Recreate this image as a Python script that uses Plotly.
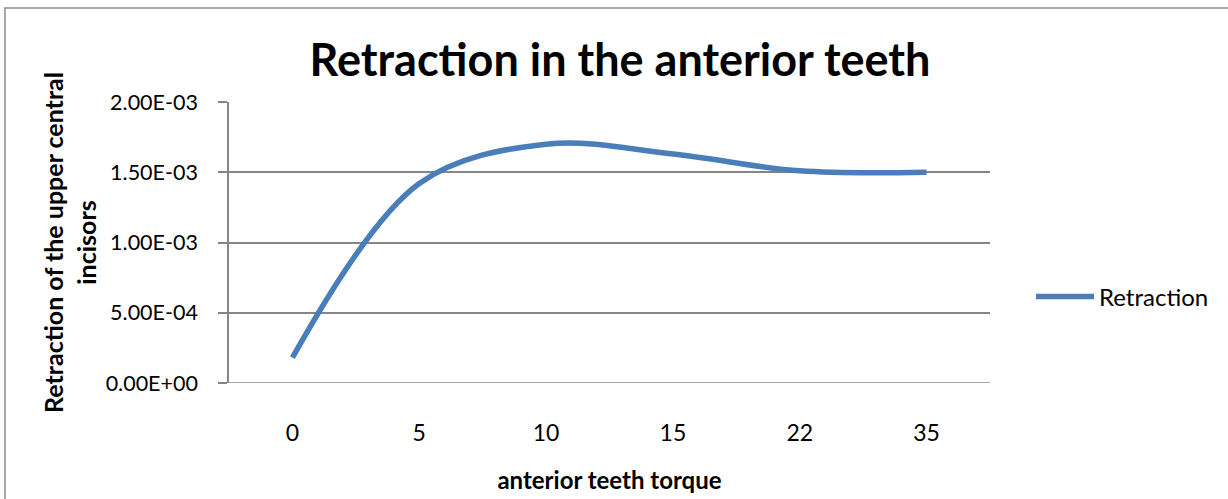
import plotly.graph_objects as go

# Data
categories = ["0", "5", "10", "15", "22", "35"]
retraction = [1.8e-4, 1.42e-3, 1.70e-3, 1.63e-3, 1.51e-3, 1.50e-3]
y_tick_vals = [0, 5e-4, 1e-3, 1.5e-3, 2e-3]
y_tick_labels = ["0.00E+00", "5.00E-04", "1.00E-03", "1.50E-03", "2.00E-03"]

FONT = "Lato"
W, H = 1228, 499
L, T = 229, 102
pw, ph = 761, 281
R, B = W - L - pw, H - T - ph

fig = go.Figure()
fig.add_trace(go.Scatter(
    x=categories, y=retraction, mode="lines", name="Retraction",
    line=dict(color="#4a7ebb", width=5.5, shape="spline", smoothing=1.0),
))

fig.update_layout(
    width=W, height=H,
    margin=dict(l=L, r=R, t=T, b=B, autoexpand=False),
    paper_bgcolor="white", plot_bgcolor="white",
    font=dict(family=FONT, color="black"),
    title=dict(text="<b>Retraction in the anterior teeth</b>",
               font=dict(size=45, family=FONT, color="black"),
               x=620 / W, xanchor="center", y=1 - 60 / H, yanchor="middle"),
    showlegend=True,
    legend=dict(x=(1031 - L) / pw, y=(383 - 297) / ph, xanchor="left", yanchor="middle",
                font=dict(size=24, family=FONT, color="black"),
                bgcolor="rgba(0,0,0,0)", itemwidth=58),
    xaxis=dict(type="category", range=[-0.5, 5.5], showgrid=False,
               showline=False, ticks="", tickfont=dict(size=23, family=FONT),
               ticklabelstandoff=34,
               title=dict(text="<b>anterior teeth torque</b>", font=dict(size=24, family=FONT),
                          standoff=27)),
    yaxis=dict(range=[0, 2e-3], tickvals=y_tick_vals, ticktext=y_tick_labels,
               showgrid=True, gridcolor="#868686", gridwidth=1.5,
               showline=True, linecolor="#868686", linewidth=1.5,
               ticks="outside", ticklen=9, tickcolor="#868686", tickwidth=1.5,
               ticklabelstandoff=16, tickfont=dict(size=21.5, family=FONT),
               zeroline=False,
               title=dict(text="<b>Retraction of the upper central<br>incisors</b>",
                          font=dict(size=25, family=FONT), standoff=2)),
    shapes=[dict(type="rect", xref="paper", yref="paper",
                 x0=(5 - L) / pw, x1=(1240 - L) / pw,
                 y0=(383 - 520) / ph, y1=(383 - 8) / ph,
                 line=dict(color="#8c8c8c", width=1.5), fillcolor="rgba(0,0,0,0)", layer="below"),
            dict(type="line", xref="paper", yref="y", x0=0, x1=1, y0=0, y1=0,
                 line=dict(color="#868686", width=1.5))],
)

fig.write_html("out.html",
               config={"displayModeBar": False},
               post_script="document.body.style.margin='0';document.body.style.overflow='hidden';")
